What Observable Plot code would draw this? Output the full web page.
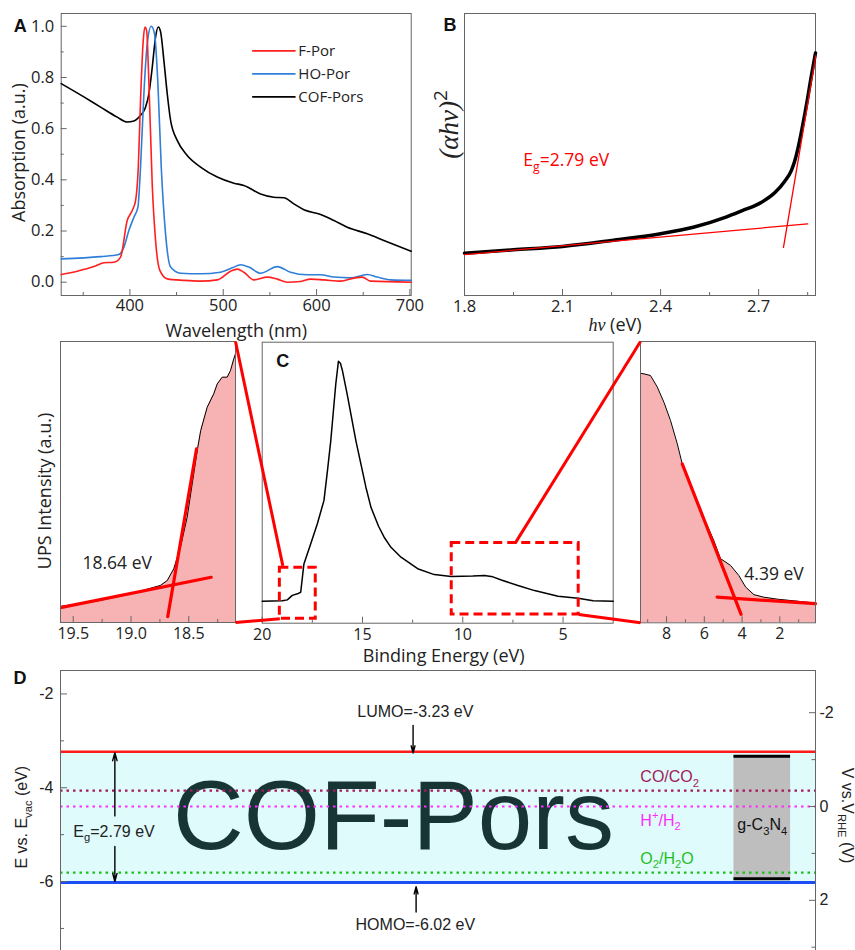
<!DOCTYPE html>
<html><head><meta charset="utf-8">
<script src="https://cdn.jsdelivr.net/npm/d3@7"></script>
<script src="https://cdn.jsdelivr.net/npm/@observablehq/plot@0.6"></script>
<style>
body{margin:0;background:#fff;}
#fig{position:relative;width:855px;height:950px;overflow:hidden;background:#fff;}
#fig svg{position:absolute;left:0;top:0;}
</style></head><body><div id="fig"></div>
<script>
// ---------- DATA ----------
// Panel A: UV-vis absorption [wavelength nm, absorption a.u.]
const seriesNames = ["F-Por", "HO-Por", "COF-Pors"];
const fporSpectrum = [[326.4,0.030],[343.6,0.043],[361.4,0.061],[372.1,0.076],[382.9,0.078],[390,0.098],[397.1,0.241],[402.5,0.280],[406.1,0.319],[409,0.450],[411.4,0.711],[414.3,0.945],[416.1,0.997],[417.9,0.984],[420.4,0.776],[423.9,0.385],[427.5,0.163],[432.1,0.046],[440,0.013],[457.9,0.007],[475.7,0.004],[493.6,0.009],[507.9,0.043],[515,0.051],[522.1,0.039],[532.9,0.009],[547.1,0.020],[557.9,0.012],[568.6,0.000],[582.9,0.003],[593.6,0.012],[607.9,0.009],[625.7,0.004],[640,0.016],[648.9,0.020],[657.9,0.004],[701.4,0.000]];
const hoporSpectrum = [[326.4,0.091],[368.6,0.100],[388.2,0.108],[393.6,0.137],[398.9,0.202],[404.3,0.254],[408.6,0.293],[411.4,0.450],[415,0.737],[418.6,0.932],[422.9,1.000],[426.4,0.971],[430,0.776],[433.6,0.450],[438.2,0.189],[443.6,0.059],[454.3,0.035],[475.7,0.033],[497.1,0.039],[509.6,0.056],[518.6,0.068],[527.5,0.059],[540,0.035],[557.9,0.061],[572.1,0.039],[590,0.029],[604.3,0.029],[618.6,0.020],[636.4,0.017],[654.3,0.030],[665,0.020],[679.3,0.009],[701.4,0.007]];
const cofSpectrum = [[326.4,0.776],[350.7,0.724],[368.6,0.684],[386.4,0.645],[397.1,0.626],[404.3,0.630],[411.4,0.652],[416.8,0.684],[420.4,0.737],[424,0.841],[427.5,0.958],[430.4,0.997],[432.9,0.978],[436.4,0.867],[440,0.737],[443.6,0.632],[450.7,0.554],[461.4,0.495],[475.7,0.450],[493.6,0.411],[511.4,0.387],[522.1,0.378],[540,0.345],[554.3,0.332],[565,0.330],[575.7,0.306],[586.4,0.283],[604.3,0.265],[618.6,0.241],[632.9,0.215],[654.3,0.189],[672.1,0.163],[701.4,0.121]];
const aTicksX = [400, 500, 600, 700];
const aTicksY = [0, 0.2, 0.4, 0.6, 0.8, 1.0];

// Panel B: Tauc plot [hv eV, (alpha h v)^2 a.u.]
const taucCurve = [[1.8,15.0],[1.95,16.2],[2.1,17.4],[2.25,19.5],[2.4,21.9],[2.5,24.2],[2.6,27.8],[2.65,30.1],[2.7,32.5],[2.75,36.5],[2.78,40.5],[2.80,44.3],[2.81,47.5],[2.82,52.0],[2.83,57.5],[2.84,63.5],[2.85,70.0],[2.86,77.0],[2.874,86.0]];
const taucBaseFit = [[1.8,14.5],[2.85,25.4]];
const taucEdgeFit = [[2.776,17.1],[2.875,85.1]];
const bandGap = 2.79;
const bTicksX = [1.8, 2.1, 2.4, 2.7];

// Panel C: UPS [binding energy eV, intensity a.u.]
const upsFull = [[20,7.8],[19.0,8.0],[18.75,8.3],[18.5,9.9],[18.2,10.6],[18.08,11.0],[17.92,21.1],[17.58,28.3],[17.25,35.4],[16.92,43.7],[16.75,54.0],[16.58,65.0],[16.42,78.0],[16.33,85.2],[16.2,93.2],[16.1,92.5],[16.0,89.9],[15.75,81.0],[15.58,74.5],[15.33,65.0],[15.08,56.7],[14.83,48.4],[14.58,41.3],[14.2,34.5],[13.92,30.6],[13.58,27.0],[13.08,23.5],[12.25,19.4],[11.42,17.3],[10.58,16.6],[9.5,16.8],[8.92,17.0],[8.5,16.5],[8.08,15.4],[7.25,13.4],[6.42,11.6],[5.25,9.6],[4.25,8.9],[3.5,8.0],[2.5,7.8]];
const upsCutoff = [[19.61,5.7],[19.3,7.6],[19.0,10.2],[18.745,13.2],[18.687,14.9],[18.63,19.1],[18.572,26.8],[18.514,37.5],[18.427,61.2],[18.397,68.3],[18.341,76.6],[18.284,81.4],[18.254,84.9],[18.211,87.3],[18.168,87.3],[18.139,89.7],[18.111,93.8],[18.096,95.6]];
const cutoffBaseFit = [[19.6,5.4],[18.306,16.1]];
const cutoffEdgeFit = [[18.682,2.1],[18.433,61.8]];
const upsOnset = [[9.38,88.7],[9.2,88.5],[8.85,87.9],[8.49,83.8],[8.14,78.4],[7.79,71.9],[7.43,63.6],[7.17,56.5],[6.2,39.9],[5.5,29.3],[5.14,22.8],[4.61,20.4],[4.17,16.8],[3.81,12.7],[3.37,10.0],[2.85,9.1],[2.14,8.4],[0.11,7.0]];
const onsetEdgeFit = [[7.17,56.5],[4.05,3.0]];
const onsetBaseFit = [[5.32,9.1],[0.11,6.8]];
const cutoffValue = 18.64, onsetValue = 4.39;
const zoomWindows = [[19.12,17.33,1.6,19.7],[10.55,4.22,3.1,28.5]]; // [E from, E to, I low, I high]
const cLeftTicks = [19.5, 19.0, 18.5], cMainTicks = [20, 15, 10, 5], cRightTicks = [8, 6, 4, 2];

// Panel D: band diagram (eV vs vacuum)
const lumo = -3.23, homo = -6.02;
const redoxLabels = ["CO/CO_{2}", "H^{+}/H_{2}", "O_{2}/H_{2}O"];
const redoxLevels = [-4.06, -4.40, -5.81];
const gcnBand = [-3.33, -5.94];
const dTicksLeft = [-2, -4, -6];
const dTicksRightV = [-2, 0, 2];
const rheOffset = -4.4; // E(vac) = -4.4 - V(RHE)

// ---------- HELPERS ----------
const W = 855, H = 950;
const fig = document.getElementById("fig");
const sansC = "'Open Sans', sans-serif";
const arial = "'Liberation Sans', Arial, sans-serif";
const frameColor = "#666";
const TICK = 16.5, TITLE = 18;
const box = (l, t, r, b) => ({width: W, height: H, marginLeft: l, marginTop: t, marginRight: W - r, marginBottom: H - b});
const st = font => ({background: "transparent", fontFamily: font, fontSize: "16px", color: "#222"});
const xy = arr => arr.map(([x, y]) => ({x, y}));
const ticksBottom = (vals, len, ih) => Plot.ruleX(vals, {insetTop: ih - len, stroke: frameColor});
const ticksLeft = (vals, len, iw) => Plot.ruleY(vals, {insetRight: iw - len, stroke: frameColor});
const ticksRight = (vals, len, iw) => Plot.ruleY(vals, {insetLeft: iw - len, stroke: frameColor});
const T = d => d;
const title = (s, o) => Plot.text([s], {text: T, textAnchor: "middle", lineAnchor: "middle", fill: "#222", ...o});
const letter = (s, o) => Plot.text([s], {text: T, frameAnchor: "top-left", textAnchor: "start", lineAnchor: "middle", fontWeight: "bold", fontSize: 18, fontFamily: arial, fill: "#111", ...o});

function richify(svg) {
  svg.querySelectorAll("text").forEach(t => {
    const s = t.textContent;
    if (!/[_^~]\{/.test(s)) return;
    const fs = parseFloat(getComputedStyle(t).fontSize) || 16;
    const parts = s.split(/([_^~]\{[^}]*\})/).filter(p => p !== "");
    t.textContent = "";
    let shift = 0;
    for (const p of parts) {
      const ts = document.createElementNS("http://www.w3.org/2000/svg", "tspan");
      let target = 0, txt = p;
      if (p.startsWith("_{")) { target = fs * 0.28; txt = p.slice(2, -1); ts.setAttribute("font-size", fs * 0.7); }
      else if (p.startsWith("^{")) { target = -fs * 0.4; txt = p.slice(2, -1); ts.setAttribute("font-size", fs * 0.7); }
      else if (p.startsWith("~{")) { txt = p.slice(2, -1); ts.setAttribute("font-style", "italic"); ts.setAttribute("font-family", "'Liberation Serif', serif"); }
      const dy = target - shift;
      if (dy) ts.setAttribute("dy", dy);
      shift = target;
      ts.textContent = txt;
      t.appendChild(ts);
    }
  });
}
function add(p) { fig.appendChild(p); richify(p); return p; }

// ---------- PANEL A ----------
const A = {l: 60.7, t: 13, r: 410.7, b: 295};
const aW = A.r - A.l, aH = A.b - A.t;
const aColors = {"F-Por": "#ff1f1f", "HO-Por": "#2f7ed8", "COF-Pors": "#000000"};
const aData = {"F-Por": fporSpectrum, "HO-Por": hoporSpectrum, "COF-Pors": cofSpectrum};
const legendRows = seriesNames.map((name, i) => ({name, y: 0.904 - i * 0.09}));
add(Plot.plot({
  ...box(A.l, A.t, A.r, A.b), style: st(sansC),
  x: {domain: [326.4, 701.4]}, y: {domain: [-0.052, 1.05]},
  marks: [
    Plot.frame({stroke: frameColor}),
    ticksBottom(aTicksX, 6, aH), ticksBottom([350, 450, 550, 650], 3, aH),
    ticksLeft(aTicksY, 6, aW), ticksLeft([0.1, 0.3, 0.5, 0.7, 0.9], 3, aW),
    Plot.axisX({ticks: aTicksX, tickSize: 0, tickPadding: 4, label: null, fontSize: TICK, tickFormat: d => String(d)}),
    Plot.axisY({ticks: aTicksY, tickSize: 0, tickPadding: 7, label: null, fontSize: TICK, tickFormat: d3.format(".1f")}),
    ...["COF-Pors", "HO-Por", "F-Por"].map(n => Plot.line(xy(aData[n]), {x: "x", y: "y", stroke: aColors[n], strokeWidth: 1.6, curve: "monotone-x"})),
    Plot.link(legendRows, {x1: () => 531, x2: () => 577.5, y1: "y", y2: "y", stroke: d => aColors[d.name], strokeWidth: 1.6}),
    Plot.text(legendRows, {x: () => 580.5, y: "y", text: "name", textAnchor: "start", fontSize: 15, fill: "#222"}),
    title("Absorption (a.u.)", {frameAnchor: "left", dx: -42.4, dy: -2, rotate: -90, fontSize: TITLE}),
    title("Wavelength (nm)", {frameAnchor: "bottom", dy: 36, fontSize: TITLE}),
    letter("A", {dx: -47.5, dy: 13})
  ]
}));

// ---------- PANEL B ----------
const B = {l: 464, t: 13, r: 815, b: 295};
const bH = B.b - B.t;
add(Plot.plot({
  ...box(B.l, B.t, B.r, B.b), style: st(sansC),
  x: {domain: [1.8, 2.874]}, y: {domain: [0, 100], axis: null},
  marks: [
    Plot.frame({stroke: frameColor}),
    ticksBottom(bTicksX, 6, bH), ticksBottom([1.95, 2.25, 2.55, 2.85], 3, bH),
    Plot.axisX({ticks: bTicksX, tickSize: 0, tickPadding: 5, label: null, fontSize: TICK, tickFormat: d3.format(".1f")}),
    Plot.line(xy(taucCurve), {x: "x", y: "y", stroke: "#000", strokeWidth: 3.5, curve: "monotone-x"}),
    Plot.line(xy(taucBaseFit), {x: "x", y: "y", stroke: "#ff0000", strokeWidth: 1.3}),
    Plot.line(xy(taucEdgeFit), {x: "x", y: "y", stroke: "#ff0000", strokeWidth: 1.3}),
    Plot.text([`E_{g}=${bandGap} eV`], {text: T, x: () => 1.98, y: () => 47.9, textAnchor: "start", fill: "#ff0000", fontSize: 17.5}),
    title("~{(αhν)}^{2}", {frameAnchor: "left", dx: -15, dy: -30, rotate: -90, fontSize: 27}),
    title("~{hν} (eV)", {frameAnchor: "bottom", dx: -25, dy: 30, fontSize: TITLE}),
    letter("B", {dx: -21, dy: 12})
  ]
}));

// ---------- PANEL C ----------
const pink = "#f7b3b3";
const CL = {l: 60, t: 341, r: 235, b: 622};
const cLeft = add(Plot.plot({
  ...box(CL.l, CL.t, CL.r, CL.b), style: st(sansC),
  x: {domain: [19.61, 18.096]}, y: {domain: [0, 100], axis: null},
  marks: [
    Plot.areaY(xy(upsCutoff), {x: "x", y: "y", fill: pink}),
    Plot.line(xy(upsCutoff), {x: "x", y: "y", stroke: "#000", strokeWidth: 1}),
    Plot.line(xy(cutoffBaseFit), {x: "x", y: "y", stroke: "#ff0000", strokeWidth: 3.2}),
    Plot.line(xy(cutoffEdgeFit), {x: "x", y: "y", stroke: "#ff0000", strokeWidth: 3.2}),
    Plot.frame({stroke: frameColor}),
    ticksBottom(cLeftTicks, 6, CL.b - CL.t), ticksBottom([19.25, 18.75, 18.25], 3, CL.b - CL.t),
    Plot.axisX({ticks: cLeftTicks, tickSize: 0, tickPadding: 5, label: null, fontSize: 16, tickFormat: d3.format(".1f")}),
    Plot.text([`${cutoffValue} eV`], {text: T, x: () => 19.42, y: () => 21.0, textAnchor: "start", fontSize: 17.5, fill: "#222"}),
    title("UPS Intensity (a.u.)", {frameAnchor: "left", dx: -15, dy: 9, rotate: -90, fontSize: TITLE})
  ]
}));

const CM = {l: 261.7, t: 341.7, r: 612.7, b: 622.7};
const cMain = add(Plot.plot({
  ...box(CM.l, CM.t, CM.r, CM.b), style: st(sansC),
  x: {domain: [20, 2.5]}, y: {domain: [0, 100], axis: null},
  marks: [
    Plot.frame({stroke: frameColor}),
    ticksBottom(cMainTicks, 6, CM.b - CM.t), ticksBottom([17.5, 12.5, 7.5], 3, CM.b - CM.t),
    Plot.axisX({ticks: cMainTicks, tickSize: 0, tickPadding: 5, label: null, fontSize: 16, tickFormat: d => String(d)}),
    Plot.line(xy(upsFull), {x: "x", y: "y", stroke: "#000", strokeWidth: 1.5}),
    Plot.rect(zoomWindows, {x1: d => d[0], x2: d => d[1], y1: d => d[2], y2: d => d[3], fill: "none", stroke: "#ff0000", strokeWidth: 3, strokeDasharray: "9,5"}),
    letter("C", {dx: 14, dy: 19}),
    title("Binding Energy (eV)", {frameAnchor: "bottom", dx: 6, dy: 33, fontSize: TITLE})
  ]
}));

const CR = {l: 640, t: 341, r: 815, b: 622.3};
const cRight = add(Plot.plot({
  ...box(CR.l, CR.t, CR.r, CR.b), style: st(sansC),
  x: {domain: [9.38, 0.11]}, y: {domain: [0, 100], axis: null},
  marks: [
    Plot.areaY(xy(upsOnset), {x: "x", y: "y", fill: pink}),
    Plot.line(xy(upsOnset), {x: "x", y: "y", stroke: "#000", strokeWidth: 1}),
    Plot.line(xy(onsetEdgeFit), {x: "x", y: "y", stroke: "#ff0000", strokeWidth: 3.2}),
    Plot.line(xy(onsetBaseFit), {x: "x", y: "y", stroke: "#ff0000", strokeWidth: 3.2}),
    Plot.frame({stroke: frameColor}),
    ticksBottom(cRightTicks, 6, CR.b - CR.t), ticksBottom([9, 7, 5, 3, 1], 3, CR.b - CR.t),
    Plot.axisX({ticks: cRightTicks, tickSize: 0, tickPadding: 5, label: null, fontSize: 16, tickFormat: d => String(d)}),
    Plot.text([`${onsetValue} eV`], {text: T, x: () => 3.88, y: () => 17.2, textAnchor: "start", fontSize: 17.5, fill: "#222"})
  ]
}));

// connectors between the zoom windows and the insets (through each panel's scales)
const lx = cLeft.scale("x"), ly = cLeft.scale("y");
const mx = cMain.scale("x"), my = cMain.scale("y");
const rx = cRight.scale("x"), ry = cRight.scale("y");
const [sw, lw] = zoomWindows;
const connectors = [
  {x1: lx.apply(lx.domain[1]), y1: ly.apply(100), x2: mx.apply(sw[0]) + 3, y2: my.apply(sw[3]) - 2},
  {x1: lx.apply(lx.domain[1]), y1: ly.apply(0), x2: mx.apply(sw[0]), y2: my.apply(sw[2])},
  {x1: mx.apply((lw[0] + lw[1]) / 2), y1: my.apply(lw[3]), x2: rx.apply(rx.domain[0]), y2: ry.apply(100)},
  {x1: mx.apply(lw[1]), y1: my.apply(lw[2]), x2: rx.apply(rx.domain[0]), y2: ry.apply(0)}
];

// ---------- PANEL D ----------
const D = {l: 60, t: 670, r: 815, b: 950};
const dW = D.r - D.l;
const redoxColors = ["#a3195b", "#ff2bff", "#1fbf1f"];
const gx1 = 89.2, gx2 = 96.7;
const eg = +(lumo - homo).toFixed(2);
add(Plot.plot({
  ...box(D.l, D.t, D.r, D.b), style: st(arial),
  x: {domain: [0, 100], axis: null}, y: {domain: [-7.47, -1.5]},
  marks: [
    Plot.rect([0], {x1: () => 0, x2: () => 100, y1: () => homo, y2: () => lumo, fill: "#e0fbfb"}),
    Plot.rect([0], {x1: () => gx1, x2: () => gx2, y1: () => gcnBand[1], y2: () => gcnBand[0], fill: "#bebebe"}),
    Plot.ruleY(gcnBand, {x1: () => gx1, x2: () => gx2, stroke: "#000", strokeWidth: 3}),
    Plot.text(["COF-Pors"], {text: T, x: () => 44.1, y: () => -4.64, fontSize: 98, fill: "#183535"}),
    ...redoxLevels.map((e, i) => Plot.ruleY([e], {stroke: redoxColors[i], strokeWidth: 2.2, strokeDasharray: "2.5,4"})),
    Plot.ruleY([lumo], {stroke: "#ff1a1a", strokeWidth: 2.5}),
    Plot.ruleY([homo], {stroke: "#1d4ef5", strokeWidth: 3}),
    ...redoxLabels.map((s, i) => Plot.text([s], {text: T, x: () => 76.8, y: () => [-3.77, -4.70, -5.51][i], textAnchor: "start", fill: redoxColors[i], fontSize: 16})),
    Plot.text(["g-C_{3}N_{4}"], {text: T, x: () => (gx1 + gx2) / 2, y: () => -4.80, fontSize: 16, fill: "#111"}),
    Plot.arrow([[-4.6, lumo - 0.02], [-5.25, homo + 0.02]], {x1: () => 7.2, x2: () => 7.2, y1: d => d[0], y2: d => d[1], stroke: "#000", strokeWidth: 1.4, headLength: 9, headAngle: 30}),
    Plot.text([`E_{g}=${eg} eV`], {text: T, x: () => 1.7, y: () => -4.94, textAnchor: "start", fontSize: 16, fill: "#222"}),
    Plot.arrow([[46.7, -2.67, lumo - 0.03], [47.1, -6.65, homo - 0.09]], {x1: d => d[0], x2: d => d[0], y1: d => d[1], y2: d => d[2], stroke: "#000", strokeWidth: 1.4, headLength: 8, headAngle: 30}),
    Plot.text([`LUMO=${lumo} eV`], {text: T, x: () => 47.0, y: () => -2.39, fontSize: 16, fill: "#222"}),
    Plot.text([`HOMO=${homo} eV`], {text: T, x: () => 47.0, y: () => -6.93, fontSize: 16, fill: "#222"}),
    Plot.ruleX([0, 100], {stroke: frameColor}),
    Plot.ruleY([-1.5], {stroke: frameColor}),
    ticksLeft(dTicksLeft, 7, dW), ticksLeft([-3, -5, -7], 4, dW),
    ticksRight(dTicksRightV.map(v => rheOffset - v), 6, dW), ticksRight([-1, 1, 3].map(v => rheOffset - v), 3.5, dW),
    Plot.axisY({anchor: "left", ticks: dTicksLeft, tickSize: 0, tickPadding: 7, label: null, fontSize: 16, tickFormat: d => String(d)}),
    Plot.axisY({anchor: "right", ticks: dTicksRightV.map(v => rheOffset - v), tickSize: 0, tickPadding: 4, label: null, fontSize: 16, tickFormat: e => String(Math.round(rheOffset - e) || 0)}),
    title("E vs. E_{vac} (eV)", {frameAnchor: "left", dx: -38.3, dy: 6.7, rotate: -90, fontSize: 16}),
    title("V vs.V_{RHE} (V)", {frameAnchor: "right", dx: 31.7, dy: 5, rotate: 90, fontSize: 16}),
    letter("D", {dx: -47, dy: 8})
  ]
}));

// overlay with connectors
add(Plot.plot({
  width: W, height: H, margin: 0, style: st(sansC),
  x: {type: "identity", axis: null}, y: {type: "identity", axis: null},
  marks: [Plot.link(connectors, {x1: "x1", y1: "y1", x2: "x2", y2: "y2", stroke: "#ff0000", strokeWidth: 3})]
}));
</script></body></html>
